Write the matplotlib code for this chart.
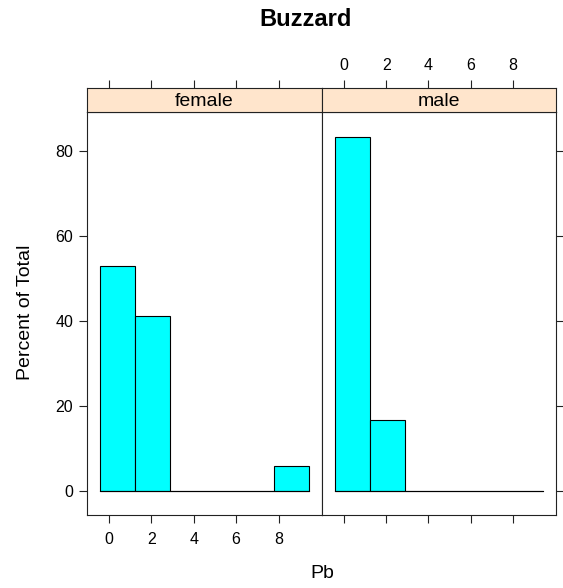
import matplotlib
matplotlib.use("Agg")
import matplotlib.pyplot as plt
import numpy as np

plt.rcParams['font.family'] = ['Liberation Sans', 'DejaVu Sans']

# Data: percent of total per Pb bin, for each sex
panels = ["female", "male"]
bin_edges = [-0.42, 1.225, 2.87, 4.515, 6.16, 7.805, 9.45]
female_pct = [52.9, 41.2, 0, 0, 0, 5.9]
male_pct = [83.3, 16.7, 0, 0, 0, 0]
x_ticks = [0, 2, 4, 6, 8]
y_ticks = [0, 20, 40, 60, 80]

W, H = 563, 588
fig = plt.figure(figsize=(W / 100, H / 100), dpi=100)


def px_rect(x0, y0, x1, y1):
    # convert pixel box (top-left origin) to figure fraction
    return [x0 / W, 1 - y1 / H, (x1 - x0) / W, (y1 - y0) / H]


xlim = (-1.04, 10.05)
ylim = (-5.6, 89.2)
edge_col = "#222222"
panel_x = [(87, 322), (322, 556)]

for i, (name, vals) in enumerate(zip(panels, [female_pct, male_pct])):
    x0, x1 = panel_x[i]
    ax = fig.add_axes(px_rect(x0, 112, x1, 515))
    widths = np.diff(bin_edges)
    ax.bar(bin_edges[:-1], vals, width=widths, align="edge",
           color="#00ffff", edgecolor="black", linewidth=0.8)
    ax.plot([bin_edges[0], bin_edges[-1]], [0, 0], color="black", lw=0.8)
    ax.set_xlim(*xlim)
    ax.set_ylim(*ylim)
    for s in ax.spines.values():
        s.set_color(edge_col)
        s.set_linewidth(0.8)
    ax.set_xticks(x_ticks)
    ax.set_yticks(y_ticks)
    ax.tick_params(direction="out", length=6, width=0.8, color=edge_col,
                   labelsize=11.5, pad=4)
    ax.tick_params(axis="x", pad=6)
    if i == 0:
        ax.tick_params(left=True, labelleft=True, right=False,
                       bottom=True, labelbottom=True, top=False)
    else:
        ax.tick_params(left=False, labelleft=False, right=True, labelright=False,
                       bottom=True, labelbottom=False, top=False)

    # strip
    st = fig.add_axes(px_rect(x0, 88, x1, 112))
    st.set_facecolor("#ffe5cc")
    st.set_xlim(*xlim)
    st.set_ylim(0, 1)
    st.set_yticks([])
    st.set_xticks(x_ticks)
    st.text(0.5, 0.45, name, transform=st.transAxes, ha="center", va="center",
            fontsize=14)
    for s in st.spines.values():
        s.set_color(edge_col)
        s.set_linewidth(0.8)
    st.tick_params(direction="out", length=6, width=0.8, color=edge_col,
                   labelsize=11.5, pad=5, bottom=False, labelbottom=False,
                   top=True, labeltop=(i == 1))

fig.text(306 / W, 1 - 20 / H, "Buzzard", ha="center", va="center",
         fontsize=17, fontweight="bold")
fig.text(26 / W, 1 - 312 / H, "Percent of Total", ha="center", va="center",
         rotation=90, fontsize=14)
fig.text(322 / W, 1 - 573 / H, "Pb", ha="center", va="center", fontsize=14)

fig.savefig("out.png", dpi=100)
